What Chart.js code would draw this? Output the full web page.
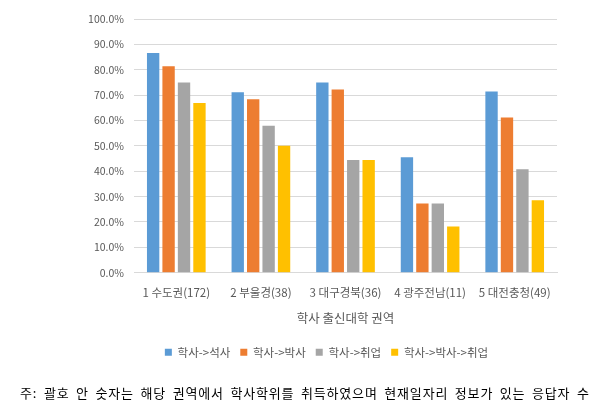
<!DOCTYPE html>
<html><head><meta charset="utf-8">
<script src="https://cdn.jsdelivr.net/npm/chart.js@4.4.0/dist/chart.umd.min.js"></script>
<style>
html,body{margin:0;padding:0;background:#fff;}
#wrap{position:relative;width:607px;height:417px;}
#note{position:absolute;left:20px;top:383px;font-family:"Noto Sans CJK KR",sans-serif;font-size:13px;color:#000;white-space:nowrap;word-spacing:3px;letter-spacing:0.8px;}
</style></head>
<body>
<div id="wrap">
<canvas id="c" width="607" height="417"></canvas>
<div id="note">주: 괄호 안 숫자는 해당 권역에서 학사학위를 취득하였으며 현재일자리 정보가 있는 응답자 수</div>
</div>
<script>
const categories = ["1 수도권(172)", "2 부울경(38)", "3 대구경북(36)", "4 광주전남(11)", "5 대전충청(49)"];
const seriesNames = ["학사->석사", "학사->박사", "학사->취업", "학사->박사->취업"];
const masters = [86.6, 71.1, 75.0, 45.5, 71.4];
const doctors = [81.4, 68.4, 72.2, 27.3, 61.2];
const employed = [75.0, 57.9, 44.4, 27.3, 40.8];
const doctorEmployed = [66.9, 50.0, 44.4, 18.2, 28.6];
const yTicks = [0, 10, 20, 30, 40, 50, 60, 70, 80, 90, 100];
const colors = ["#5b9bd5", "#ed7d31", "#a5a5a5", "#ffc000"];
const xTitle = "학사 출신대학 권역";

const FONT = '"Noto Sans CJK KR", sans-serif';
const txt = "#595959";
const values = [masters, doctors, employed, doctorEmployed];

const legendShift = {
  id: "legendShift",
  afterLayout(chart) {
    const l = chart.legend;
    if (l) { l.left += 48; l.right += 48; }
  }
};

new Chart(document.getElementById("c"), {
  type: "bar",
  data: {
    labels: categories,
    datasets: seriesNames.map((n, i) => ({
      label: n, data: values[i], backgroundColor: colors[i],
      borderWidth: 0, categoryPercentage: 0.73, barPercentage: 0.8
    }))
  },
  options: {
    responsive: false, animation: false,
    layout: { padding: { left: 0, right: 50, top: 19, bottom: 49 } },
    plugins: {
      tooltip: { enabled: false },
      legend: {
        position: "bottom",
        labels: { boxWidth: 7, boxHeight: 7, padding: 10, color: txt, font: { family: FONT, size: 11.5 } }
      }
    },
    scales: {
      x: {
        grid: { display: false },
        border: { color: "#d9d9d9" },
        ticks: { color: txt, font: { family: FONT, size: 11.5 }, padding: 5, maxRotation: 0, autoSkip: false },
        title: { display: true, text: xTitle, color: txt, font: { family: FONT, size: 12.5 }, padding: { top: 6, bottom: 11 } }
      },
      y: {
        min: 0, max: 100,
        afterFit: s => { s.width = 134; },
        afterBuildTicks: s => { s.ticks = yTicks.map(v => ({ value: v })); },
        grid: { color: "#d9d9d9", drawTicks: false },
        border: { display: false },
        ticks: { color: txt, font: { family: FONT, size: 10.5 }, padding: 10, callback: v => v.toFixed(1) + "%" }
      }
    }
  },
  plugins: [legendShift]
});
</script>
</body></html>
